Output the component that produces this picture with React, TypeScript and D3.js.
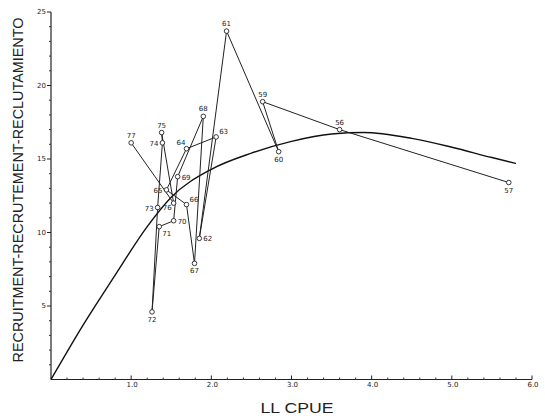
import React from "react";
import * as d3 from "d3";

const years = ["57", "56", "59", "60", "61", "62", "63", "64", "65", "66", "67", "68", "69", "70", "71", "72", "73", "74", "75", "76", "77"];
const cpue = [5.71, 3.6, 2.64, 2.84, 2.19, 1.85, 2.06, 1.69, 1.44, 1.69, 1.79, 1.9, 1.58, 1.53, 1.35, 1.26, 1.33, 1.39, 1.38, 1.53, 1.0];
const recruitment = [13.4, 17.0, 18.9, 15.5, 23.7, 9.6, 16.5, 15.7, 12.9, 11.9, 7.9, 17.9, 13.8, 10.8, 10.4, 4.6, 11.7, 16.1, 16.8, 12.0, 16.1];
// label placement for each year's point
const labelSide = ["below", "above", "above", "below", "above", "right", "rightup", "leftup", "left", "rightup", "below", "above", "right", "right", "belowright", "below", "left", "left", "above", "leftdown", "above"];

// fitted stock-recruitment curve
const curveX = [0, 0.4, 0.8, 1.2, 1.5, 2.0, 2.5, 3.0, 3.5, 3.9, 4.5, 5.0, 5.5, 5.8];
const curveY = [0, 3.7, 7.1, 10.4, 12.4, 14.3, 15.4, 16.2, 16.7, 16.8, 16.4, 15.8, 15.1, 14.7];

const xMajor = [1, 2, 3, 4, 5, 6];
const xMajorLabels = ["1.0", "2.0", "3.0", "4.0", "5.0", "6.0"];
const yMajor = [5, 10, 15, 20, 25];
const yMajorLabels = ["5", "10", "15", "20", "25"];

const W = 545;
const H = 419;

export default function App() {
  const x = d3.scaleLinear().domain([0, 6]).range([51, 532]);
  const y = d3.scaleLinear().domain([0, 25]).range([379.5, 12]);

  const pts = years.map((yr, i) => ({ yr, cx: x(cpue[i]), cy: y(recruitment[i]), side: labelSide[i] }));
  const path = d3.line<{ cx: number; cy: number }>().x((d) => d.cx).y((d) => d.cy)(pts) || "";
  const curveData = curveX.map((v, i) => [v, curveY[i]] as [number, number]);
  const curvePath = d3
    .line<[number, number]>()
    .x((d) => x(d[0]))
    .y((d) => y(d[1]))
    .curve(d3.curveMonotoneX)(curveData) || "";

  const xMinor = d3.range(0.2, 6.0001, 0.2).filter((v) => Math.abs(v - Math.round(v)) > 0.01);
  const yMinor = d3.range(1, 25).filter((v) => v % 5 !== 0);

  const lblPos = (side: string, cx: number, cy: number) => {
    switch (side) {
      case "above":
        return { x: cx, y: cy - 5, a: "middle" };
      case "below":
        return { x: cx, y: cy + 10, a: "middle" };
      case "right":
        return { x: cx + 4, y: cy + 3, a: "start" };
      case "rightup":
        return { x: cx + 3, y: cy - 3, a: "start" };
      case "left":
        return { x: cx - 4, y: cy + 3, a: "end" };
      case "leftup":
        return { x: cx - 1, y: cy - 4, a: "end" };
      case "leftdown":
        return { x: cx - 2, y: cy + 7, a: "end" };
      case "belowright":
        return { x: cx + 3, y: cy + 9, a: "start" };
      default:
        return { x: cx, y: cy - 5, a: "middle" };
    }
  };

  const font = "'DejaVu Sans', sans-serif";
  const titleFont = "'Liberation Sans', Arial, sans-serif";

  return (
    <svg width={W} height={H} style={{ position: "absolute", left: 0, top: 0, background: "#fff" }}>
      <rect x={0} y={0} width={W} height={H} fill="#fff" />
      {/* axes */}
      <line x1={x(0)} x2={x(6)} y1={y(0)} y2={y(0)} stroke="#222" strokeWidth={1.2} />
      <line x1={x(0)} x2={x(0)} y1={y(0)} y2={y(25)} stroke="#222" strokeWidth={1.2} />
      {xMinor.map((v, i) => (
        <line key={"xm" + i} x1={x(v)} x2={x(v)} y1={y(0)} y2={y(0) - 2} stroke="#333" strokeWidth={1} />
      ))}
      {xMajor.map((v, i) => (
        <g key={"xM" + i}>
          <line x1={x(v)} x2={x(v)} y1={y(0)} y2={y(0) - 4} stroke="#222" strokeWidth={1} />
          <text x={x(v) + 1} y={y(0) + 7} fontSize={7} fontFamily={font} textAnchor="middle" fill="#222">
            {xMajorLabels[i]}
          </text>
        </g>
      ))}
      {yMinor.map((v, i) => (
        <line key={"ym" + i} x1={x(0)} x2={x(0) - 2} y1={y(v)} y2={y(v)} stroke="#333" strokeWidth={1} />
      ))}
      {yMajor.map((v, i) => (
        <g key={"yM" + i}>
          <line x1={x(0)} x2={x(0) - 4} y1={y(v)} y2={y(v)} stroke="#222" strokeWidth={1} />
          <text x={x(0) - 5} y={y(v) + 2} fontSize={7} fontFamily={font} textAnchor="end" fill="#222">
            {yMajorLabels[i]}
          </text>
        </g>
      ))}
      {/* axis titles */}
      <text x={297} y={413} fontSize={14} fontFamily={titleFont} textAnchor="middle" textLength={73} lengthAdjust="spacingAndGlyphs" fill="#222">
        LL CPUE
      </text>
      <text
        transform={`translate(23, 190) rotate(-90)`}
        fontSize={14}
        fontFamily={titleFont}
        textAnchor="middle"
        textLength={345}
        lengthAdjust="spacingAndGlyphs"
        fill="#222"
      >
        RECRUITMENT-RECRUTEMENT-RECLUTAMIENTO
      </text>
      {/* fitted curve */}
      <path d={curvePath} fill="none" stroke="#111" strokeWidth={1.4} />
      {/* time path */}
      <path d={path} fill="none" stroke="#222" strokeWidth={1} />
      {pts.map((p, i) => {
        const l = lblPos(p.side, p.cx, p.cy);
        return (
          <g key={"p" + i}>
            <circle cx={p.cx} cy={p.cy} r={2.3} fill="#fff" stroke="#222" strokeWidth={0.9} />
            <text x={l.x} y={l.y} fontSize={7} fontFamily={font} textAnchor={l.a as any} fill="#222">
              {p.yr}
            </text>
          </g>
        );
      })}
    </svg>
  );
}
